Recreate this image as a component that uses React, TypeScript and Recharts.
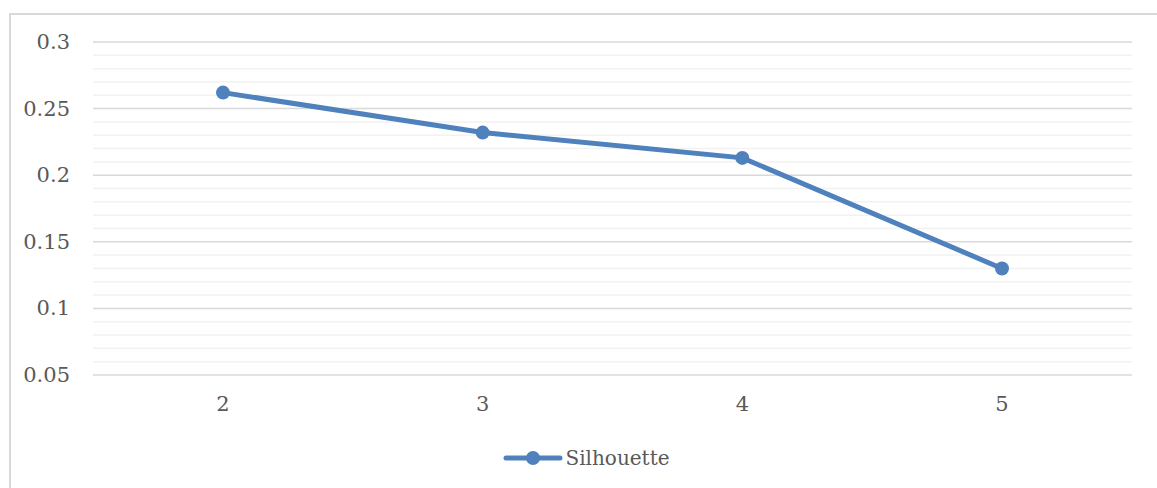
import React from 'react';
import {
  LineChart,
  Line,
  XAxis,
  YAxis,
  CartesianGrid,
  ReferenceLine,
  Legend,
} from 'recharts';

// Datos del gráfico
const clusters = ['2', '3', '4', '5'];
const silhouette = [0.262, 0.232, 0.213, 0.13];

// Marcas del eje Y
const majorTicks = [0.05, 0.1, 0.15, 0.2, 0.25, 0.3];
const minorTicks = [
  0.06, 0.07, 0.08, 0.09,
  0.11, 0.12, 0.13, 0.14,
  0.16, 0.17, 0.18, 0.19,
  0.21, 0.22, 0.23, 0.24,
  0.26, 0.27, 0.28, 0.29,
];

const data = clusters.map((k, i) => ({ k, silhouette: silhouette[i] }));

const BLUE = '#4f81bd';
const FONT = '"DejaVu Serif", serif';
const AXIS_SIZE = 21;
const LEGEND_SIZE = 20;
const TEXT = '#595959';

// Etiquetas de los ejes
const YTick = ({ x, y, payload }: any) => (
  <text x={x} y={y} textAnchor="end" dominantBaseline="central" fill={TEXT} fontSize={AXIS_SIZE} fontFamily={FONT}>
    {payload.value}
  </text>
);

const XTick = ({ x, y, payload }: any) => (
  <text x={x} y={y} dy="0.71em" textAnchor="middle" fill={TEXT} fontSize={AXIS_SIZE} fontFamily={FONT}>
    {payload.value}
  </text>
);

// Leyenda personalizada (línea con marcador)
const CustomLegend = () => (
  <div
    style={{
      display: 'flex',
      alignItems: 'center',
      justifyContent: 'center',
      height: 30,
      paddingLeft: 30,
    }}
  >
    <svg width={60} height={18}>
      <line x1={3} y1={9} x2={57} y2={9} stroke={BLUE} strokeWidth={5} strokeLinecap="round" />
      <circle cx={30} cy={9} r={7} fill={BLUE} />
    </svg>
    <span style={{ fontFamily: FONT, fontSize: LEGEND_SIZE, color: TEXT, marginLeft: 2 }}>Silhouette</span>
  </div>
);

export default function App() {
  return (
    <div>
      <style>{`body{margin:0;overflow:hidden;background:#fff}`}</style>
      <div
        style={{
          position: 'absolute',
          left: 9,
          top: 13,
          width: 1148,
          height: 475,
          borderLeft: '2px solid #d9d9d9',
          borderTop: '2px solid #d9d9d9',
          background: '#fff',
        }}
      >
        <LineChart
          width={1146}
          height={475}
          data={data}
          margin={{ top: 27, right: 25, bottom: 25, left: 0 }}
        >
          <CartesianGrid vertical={false} stroke="#d9d9d9" strokeWidth={1.5} />
          {minorTicks.map((v) => (
            <ReferenceLine key={v} y={v} stroke="#f2f2f2" strokeWidth={1.5} />
          ))}
          <XAxis
            dataKey="k"
            axisLine={false}
            tickLine={false}
            tickSize={0}
            tickMargin={21}
            height={60}
            padding={{ left: 130, right: 130 }}
            tick={<XTick />}
          />
          <YAxis
            domain={[0.05, 0.3]}
            ticks={majorTicks}
            axisLine={false}
            tickLine={false}
            tickSize={0}
            tickMargin={23}
            width={82}
            tick={<YTick />}
          />
          <Legend
            verticalAlign="bottom"
            content={<CustomLegend />}
            wrapperStyle={{ top: 428 }}
          />
          <Line
            dataKey="silhouette"
            name="Silhouette"
            stroke={BLUE}
            strokeWidth={5}
            strokeLinecap="round"
            dot={{ r: 7, fill: BLUE, stroke: 'none' }}
            activeDot={false}
            isAnimationActive={false}
          />
        </LineChart>
      </div>
    </div>
  );
}
